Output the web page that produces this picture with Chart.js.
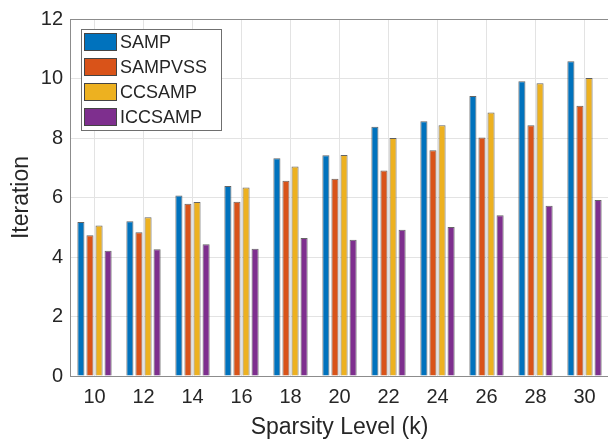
<!DOCTYPE html>
<html lang="en">
<head>
    <meta charset="UTF-8">
    <title>Sparsity Level vs Iteration</title>
    <script src="https://cdn.jsdelivr.net/npm/chart.js"></script>
    <style>
        html, body { margin: 0; padding: 0; background: #fff; overflow: hidden; }
        #wrap { position: relative; width: 612px; height: 441px; }
    </style>
</head>
<body>
    <div id="wrap">
        <canvas id="bar-chart"></canvas>
    </div>

    <script>
        // Sparsity levels (x categories)
        var sparsity = ["10", "12", "14", "16", "18", "20", "22", "24", "26", "28", "30"];

        // Iterations per method
        var samp     = [5.18, 5.20, 6.07, 6.39, 7.32, 7.42, 8.38, 8.56, 9.41, 9.91, 10.58];
        var sampvss  = [4.73, 4.83, 5.79, 5.86, 6.56, 6.63, 6.91, 7.59, 8.02, 8.43, 9.08];
        var ccsamp   = [5.06, 5.34, 5.85, 6.34, 7.04, 7.43, 8.00, 8.43, 8.86, 9.84, 10.02];
        var iccsamp  = [4.21, 4.26, 4.43, 4.28, 4.64, 4.58, 4.92, 5.01, 5.40, 5.72, 5.92];

        var yTicks = [0, 2, 4, 6, 8, 10, 12];

        var textColor = "#262626";
        var fontFamily = "'Liberation Sans', Arial, Helvetica, sans-serif";

        // legend drawn inside the plot, top-left, plus the axes box
        var boxAndLegend = {
            id: "boxAndLegend",
            afterDraw: function (chart) {
                var ctx = chart.ctx;
                var area = chart.chartArea;
                ctx.save();
                ctx.strokeStyle = "#8c8c8c";
                ctx.lineWidth = 1;
                ctx.strokeRect(area.left + 0.5, area.top + 0.5, area.right - area.left, area.bottom - area.top);

                // legend
                var x0 = 81, y0 = 29, w = 140, h = 101;
                ctx.fillStyle = "#fff";
                ctx.fillRect(x0, y0, w, h);
                ctx.strokeStyle = "#6f6f6f";
                ctx.strokeRect(x0 + 0.5, y0 + 0.5, w, h);
                ctx.font = "18px " + fontFamily;
                ctx.textBaseline = "middle";
                ctx.textAlign = "left";
                chart.data.datasets.forEach(function (ds, i) {
                    var ry = 33 + i * 25;
                    ctx.fillStyle = ds.backgroundColor;
                    ctx.fillRect(84, ry, 33, 18);
                    ctx.strokeStyle = "#444";
                    ctx.strokeRect(84.5, ry + 0.5, 32, 17);
                    ctx.fillStyle = textColor;
                    ctx.fillText(ds.label, 120, ry + 10);
                });
                ctx.restore();
            }
        };

        function makeSet(label, data, color) {
            return {
                label: label,
                data: data,
                backgroundColor: color,
                borderColor: "rgba(50,50,50,0.75)",
                borderWidth: 1,
                categoryPercentage: 0.74,
                barPercentage: 0.78
            };
        }

        var chart = new Chart(document.getElementById("bar-chart"), {
            type: "bar",
            data: {
                labels: sparsity,
                datasets: [
                    makeSet("SAMP", samp, "#0072BD"),
                    makeSet("SAMPVSS", sampvss, "#D95319"),
                    makeSet("CCSAMP", ccsamp, "#EDB120"),
                    makeSet("ICCSAMP", iccsamp, "#7E2F8E")
                ]
            },
            options: {
                responsive: true,
                maintainAspectRatio: false,
                animation: false,
                layout: { padding: { top: 16, right: 3, bottom: 0, left: 0 } },
                plugins: {
                    legend: { display: false },
                    tooltip: { enabled: false }
                },
                scales: {
                    x: {
                        offset: true,
                        grid: { offset: false, color: "#e3e3e3", drawTicks: false },
                        border: { display: false },
                        ticks: { color: textColor, padding: 9, font: { size: 20, family: fontFamily } },
                        title: {
                            display: true,
                            text: "Sparsity Level (k)",
                            color: textColor,
                            font: { size: 23, family: fontFamily },
                            padding: { top: 0, bottom: 0 }
                        },
                        afterFit: function (scale) { scale.height = 65; }
                    },
                    y: {
                        min: 0,
                        max: 12,
                        afterBuildTicks: function (scale) {
                            scale.ticks = yTicks.map(function (v) { return { value: v }; });
                        },
                        grid: { color: "#e3e3e3", drawTicks: false },
                        border: { display: false },
                        ticks: { color: textColor, padding: 7, font: { size: 20, family: fontFamily } },
                        title: {
                            display: true,
                            text: "Iteration",
                            color: textColor,
                            font: { size: 23, family: fontFamily },
                            padding: { top: 8, bottom: 0 }
                        },
                        afterFit: function (scale) { scale.width = 70; }
                    }
                }
            },
            plugins: [boxAndLegend]
        });
    </script>
</body>
</html>
